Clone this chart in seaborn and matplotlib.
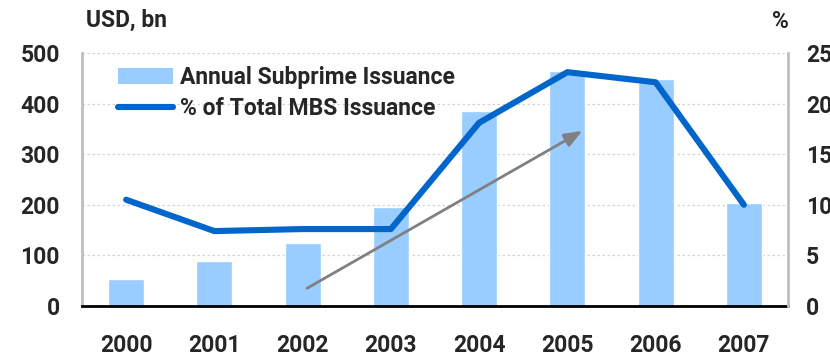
import matplotlib
matplotlib.use("Agg")
import matplotlib.pyplot as plt
from matplotlib import font_manager
from matplotlib.patches import Patch
from matplotlib.lines import Line2D
import numpy as np
import pandas as pd
import seaborn as sns

years = ["2000", "2001", "2002", "2003", "2004", "2005", "2006", "2007"]
subprime_issuance = [53, 89, 125, 196, 386, 465, 449, 204]   # USD bn
share_of_mbs = [10.5, 7.4, 7.6, 7.6, 18.1, 23.1, 22.1, 10.0]  # % of total MBS issuance
left_ticks = [0, 100, 200, 300, 400, 500]
right_ticks = [0, 5, 10, 15, 20, 25]
trend_start = (2.05, 35)
trend_end = (5.17, 346)

sns.set_theme(style="white")


def _has_bold(name):
    return any(f.name == name and (f.weight in ("bold", 700) or str(f.weight) == "700")
               for f in font_manager.fontManager.ttflist)


candidates = ["Liberation Sans Narrow", "Roboto", "Open Sans", "Lato", "DejaVu Sans"]
family = next((f for f in candidates if _has_bold(f)), "DejaVu Sans")
plt.rcParams["font.family"] = [family, "DejaVu Sans"]
plt.rcParams["font.weight"] = "bold"

bar_color = "#99CCFF"
line_color = "#0066CC"
fs = 16.5

df = pd.DataFrame({"year": years, "issuance": subprime_issuance, "share": share_of_mbs})
df["pos"] = np.arange(len(df))

fig = plt.figure(figsize=(8.3, 3.6), dpi=100)
ax = fig.add_axes([0.0988, 0.15, 0.8506, 0.703])

# bars on the left (USD bn) axis
sns.barplot(data=df, x="year", y="issuance", color=bar_color, saturation=1,
            width=0.41, ax=ax, zorder=2)
ax.set_xlim(-0.5, 7.5)
ax.set_ylim(0, 500)
ax.set_yticks(left_ticks)
ax.set_xlabel("")
ax.set_ylabel("")
ax.yaxis.grid(True, color="#D4D4D4", linestyle=(0, (2, 2)), linewidth=0.9, zorder=0)
ax.set_axisbelow(True)

# share line on the right (%) axis, drawn above the bars
ax2 = ax.twinx()
sns.lineplot(data=df, x="pos", y="share", color=line_color, linewidth=4.4, ax=ax2)
ax2.set_ylim(0, 25)
ax2.set_yticks(right_ticks)
ax2.set_xlim(-0.5, 7.5)
ax2.set_ylabel("")
ax2.set_xlabel("")

# trend arrow, positioned in USD bn units
ax2.annotate("", xy=trend_end, xytext=trend_start,
             xycoords=ax.transData, textcoords=ax.transData,
             arrowprops=dict(arrowstyle="-|>,head_length=0.9,head_width=0.35",
                             color="#808080", lw=2.0, shrinkA=0, shrinkB=0),
             zorder=5, annotation_clip=False)

for a in (ax, ax2):
    a.spines["top"].set_visible(False)
ax.spines["left"].set_color("#BFBFBF")
ax.spines["left"].set_linewidth(2)
ax.spines["right"].set_visible(False)
ax.spines["bottom"].set_color("#000000")
ax.spines["bottom"].set_linewidth(2)
ax2.spines["left"].set_visible(False)
ax2.spines["bottom"].set_visible(False)
ax2.spines["right"].set_color("#BFBFBF")
ax2.spines["right"].set_linewidth(2)

ax.tick_params(axis="y", length=0, pad=16, labelsize=fs)
ax.tick_params(axis="x", length=0, pad=20, labelsize=fs)
ax2.tick_params(axis="y", length=0, pad=13, labelsize=fs)
for lab in ax.get_xticklabels() + ax.get_yticklabels() + ax2.get_yticklabels():
    lab.set_fontweight("bold")

fig.text(0.104, 0.945, "USD, bn", fontsize=fs, fontweight="bold", ha="left", va="center")
fig.text(0.94, 0.94, "%", fontsize=fs, fontweight="bold", ha="center", va="center")

handles = [Patch(facecolor=bar_color, edgecolor="none"),
           Line2D([0], [0], color=line_color, linewidth=4.4)]
labels = ["Annual Subprime Issuance", "% of Total MBS Issuance"]
leg = ax2.legend(handles, labels, loc="upper left", bbox_to_anchor=(0.038, 0.985),
                 frameon=False, fontsize=fs, handlelength=2.4, handleheight=0.7,
                 handletextpad=0.3, labelspacing=0.35, borderaxespad=0)
for t in leg.get_texts():
    t.set_fontweight("bold")

fig.savefig("out.png", dpi=100)
